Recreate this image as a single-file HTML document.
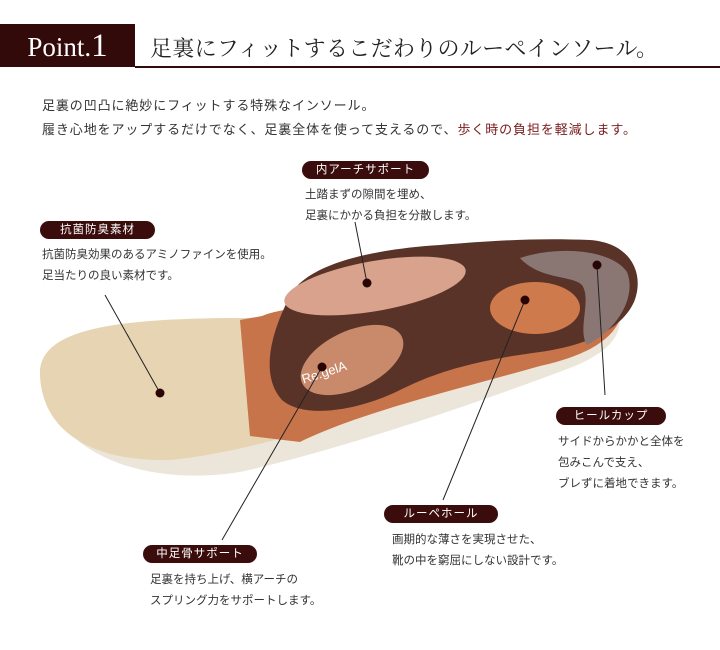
<!DOCTYPE html>
<html><head><meta charset="utf-8"><style>
body{margin:0;width:720px;height:650px;background:#fff;position:relative;overflow:hidden;font-family:"Liberation Sans","Noto Sans CJK JP",sans-serif;color:#333}
.a{position:absolute}
.pill{position:absolute;background:#3a0c0c;color:#fff;border-radius:10px;height:18px;line-height:18px;font-size:11.5px;text-align:center;letter-spacing:1px}
.t{position:absolute;font-size:11.5px;line-height:21px;color:#333;white-space:nowrap}
</style></head><body>
<div class="a" style="left:0;top:24px;width:135px;height:43px;background:#330a0a;color:#fff;font-family:'Liberation Serif',serif;font-size:27px;line-height:45px;text-align:center">Point.<span style="font-size:33px">1</span></div>
<div class="a" style="left:135px;top:66px;width:585px;height:1.5px;background:#330a0a"></div>
<div class="a" style="left:150px;top:32px;font-family:'Liberation Serif','Noto Serif CJK SC',serif;font-size:22px;color:#222;letter-spacing:0.3px">足裏にフィットするこだわりのルーペインソール。</div>
<div class="t" style="left:42px;top:94px;font-size:13px;line-height:24px;letter-spacing:0.9px">足裏の凹凸に絶妙にフィットする特殊なインソール。<br>履き心地をアップするだけでなく、足裏全体を使って支えるので、<span style="color:#7a1a1a">歩く時の負担を軽減します。</span></div>

<svg class="a" style="left:0;top:0" width="720" height="650">
<path d="M45,380 C40,335 110,318 250,318 L615,300 C628,330 615,350 570,368 C480,402 340,450 240,472 C140,488 50,450 45,380Z" fill="#ece6da"/>
<path d="M40,375 C38,330 110,318 245,318 L560,310 C570,340 500,370 430,392 C340,422 250,452 170,460 C90,462 42,430 40,375Z" fill="#e6d4b3"/>
<path d="M240,320 L262,316 C300,300 430,300 540,290 L622,300 C626,335 590,355 540,366 C470,386 360,412 300,442 L250,436 Z" fill="#c8744a"/>
<path d="M288,300 C300,268 360,250 440,245 C500,240 540,238 590,240 C632,243 645,275 634,302 C622,328 590,345 540,352 C480,360 440,370 400,390 C360,410 305,420 282,400 C262,378 268,340 288,300Z" fill="#5a3328"/>
<path d="M520,258 C560,245 612,250 627,272 C637,297 617,330 587,345 C577,330 592,300 582,285 C572,275 540,280 520,258Z" fill="#8a7774"/>
<ellipse cx="375" cy="286" rx="92" ry="25" transform="rotate(-10 375 286)" fill="#d9a28c"/>
<ellipse cx="535" cy="308" rx="45" ry="26" fill="#cf7a4c"/>
<ellipse cx="352" cy="360" rx="55" ry="29" transform="rotate(-25 352 360)" fill="#c98a6c"/>
<text x="300" y="378" fill="#fff" font-size="13" font-family="Liberation Sans" transform="rotate(-18 320 370)">Re:gelA</text>
<g stroke="#222" stroke-width="1" fill="none">
<line x1="355" y1="222" x2="367" y2="283"/>
<line x1="105" y1="295" x2="160" y2="393"/>
<line x1="605" y1="395" x2="597" y2="265"/>
<line x1="443" y1="500" x2="525" y2="300"/>
<line x1="222" y1="540" x2="322" y2="367"/>
</g>
<g fill="#2a0505">
<circle cx="367" cy="283" r="4.5"/><circle cx="160" cy="393" r="4.5"/><circle cx="597" cy="265" r="4.5"/><circle cx="525" cy="300" r="4.5"/><circle cx="322" cy="367" r="4.5"/>
</g>
</svg>

<div class="pill" style="left:302px;top:161px;width:127px">内アーチサポート</div>
<div class="t" style="left:305px;top:185px">土踏まずの隙間を埋め、<br>足裏にかかる負担を分散します。</div>
<div class="pill" style="left:40px;top:221px;width:115px">抗菌防臭素材</div>
<div class="t" style="left:42px;top:245px">抗菌防臭効果のあるアミノファインを使用。<br>足当たりの良い素材です。</div>
<div class="pill" style="left:556px;top:407px;width:110px">ヒールカップ</div>
<div class="t" style="left:558px;top:432px">サイドからかかと全体を<br>包みこんで支え、<br>ブレずに着地できます。</div>
<div class="pill" style="left:384px;top:505px;width:114px">ルーペホール</div>
<div class="t" style="left:392px;top:530px">画期的な薄さを実現させた、<br>靴の中を窮屈にしない設計です。</div>
<div class="pill" style="left:143px;top:545px;width:114px">中足骨サポート</div>
<div class="t" style="left:150px;top:570px">足裏を持ち上げ、横アーチの<br>スプリング力をサポートします。</div>
</body></html>
